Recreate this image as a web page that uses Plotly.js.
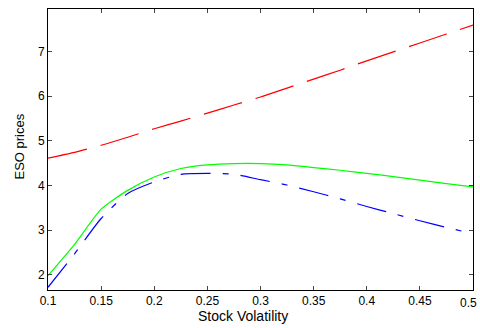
<!DOCTYPE html>
<html><head><meta charset="utf-8">
<script src="https://cdn.plot.ly/plotly-3.0.1.min.js"></script>
<style>body{margin:0;background:#fff}#c{width:480px;height:328px}</style>
</head><body><div id="c"></div>
<script>
const vol = [0.1,0.125,0.15,0.175,0.2,0.225,0.25,0.275,0.3,0.325,0.35,0.375,0.4,0.425,0.45,0.475,0.5];
const redVals = [4.61,4.74,4.90,5.08,5.27,5.44,5.62,5.80,5.98,6.18,6.38,6.58,6.79,6.99,7.19,7.39,7.59];
const greenVals = [1.98,2.68,3.47,3.89,4.19,4.38,4.46,4.49,4.49,4.46,4.40,4.34,4.27,4.20,4.12,4.04,3.97];
const blueVals = [1.72,2.47,3.26,3.82,4.08,4.25,4.27,4.25,4.13,4.01,3.86,3.70,3.53,3.37,3.21,3.06,2.92];
const xTicks = [0.1,0.15,0.2,0.25,0.3,0.35,0.4,0.45,0.5];
const yTicks = [2,3,4,5,6,7];
const xTitle = 'Stock Volatility';
const yTitle = 'ESO prices';

const traces = [
  {x: vol, y: redVals, mode:'lines', line:{color:'#ff0000', width:1.2, dash:'40px,14px', shape:'spline', smoothing:0.6}},
  {x: vol, y: greenVals, mode:'lines', line:{color:'#00ff00', width:1.2, shape:'spline', smoothing:0.6}},
  {x: vol, y: blueVals, mode:'lines', line:{color:'#0000ff', width:1.2, dash:'30px,12px,6px,12px', shape:'spline', smoothing:0.6}}
];
const ff = 'Liberation Sans, Arial, sans-serif';
const font = {family:ff, size:12, color:'#000'};
const layout = {
  width:480, height:328,
  margin:{l:48, r:7, t:9, b:38},
  showlegend:false,
  paper_bgcolor:'#fff', plot_bgcolor:'#fff',
  font: font,
  xaxis:{range:[0.1,0.5], tickvals:xTicks, ticktext:xTicks.map(String), ticks:'inside', ticklen:4,
    showline:true, mirror:'ticks', linecolor:'#000', linewidth:1, showgrid:false, zeroline:false,
    tickfont:font},
  yaxis:{range:[1.66,7.95], tickvals:yTicks, ticks:'inside', ticklen:4,
    showline:true, mirror:'ticks', linecolor:'#000', linewidth:1, showgrid:false, zeroline:false,
    tickfont:font},
  annotations:[
    {text:String(xTicks[xTicks.length-1]), xref:'paper', yref:'paper', x:1, xshift:6, y:-0.015,
      xanchor:'right', yanchor:'top', showarrow:false, font:font},
    {text:xTitle, xref:'paper', yref:'paper', x:0.459, y:-0.0925, xanchor:'center', yanchor:'middle',
      showarrow:false, font:{family:ff, size:14, color:'#000'}},
    {text:yTitle, xref:'paper', yref:'paper', x:-0.068, y:0.511, xanchor:'center', yanchor:'middle',
      textangle:-90, showarrow:false, font:{family:ff, size:13, color:'#000'}}
  ]
};
Plotly.newPlot('c', traces, layout, {staticPlot:true, displayModeBar:false});
</script></body></html>
